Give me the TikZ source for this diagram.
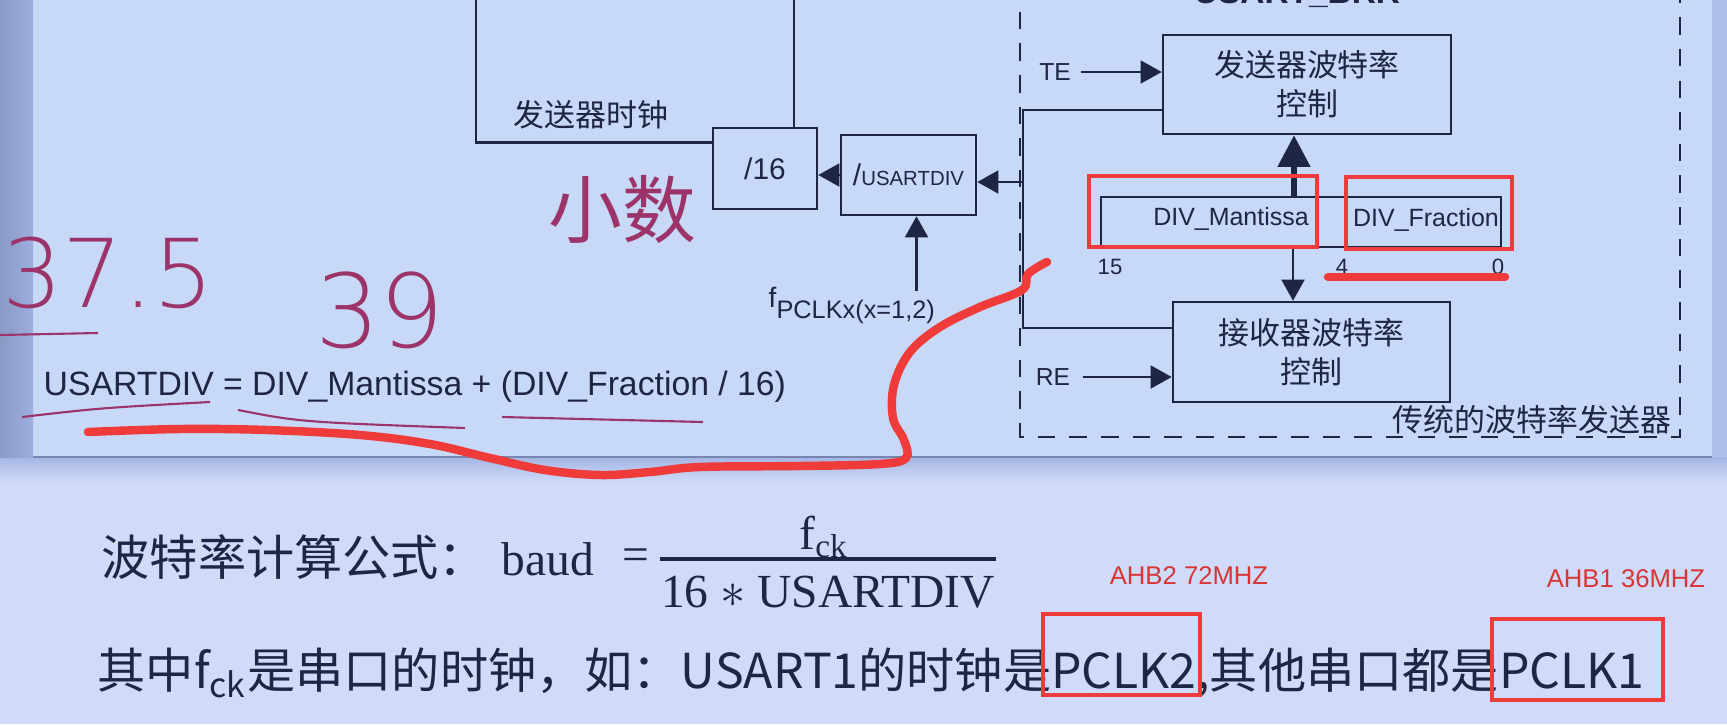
\documentclass[tikz,border=0pt]{standalone}
\usepackage{fontspec}
\setmainfont{Liberation Sans}
\newfontfamily\cjk{Noto Sans CJK SC}
\newfontfamily\serifo{Liberation Serif}
\newfontfamily\hand{DejaVu Sans ExtraLight}
\usepackage{tikz}
\usetikzlibrary{arrows.meta}
\definecolor{inchiostro}{HTML}{1E2545}
\definecolor{lavagna}{HTML}{C8D8F7}
\definecolor{sfondo}{HTML}{CFDBF9}
\definecolor{bordo}{HTML}{9DAEE0}
\definecolor{rosso}{HTML}{F03B3B}
\definecolor{penna}{HTML}{9C3469}

\begin{document}
\begin{tikzpicture}[x=0.01cm, y=-0.01cm,
        every node/.style={font=\fontsize{7.1}{8}\selectfont, text=inchiostro, inner sep=0pt},
        blocco/.style={draw=inchiostro, line width=0.7pt},
        freccia/.style={draw=inchiostro, line width=0.7pt, -{Triangle[length=6pt,width=6.5pt]}},
        riquadro/.style={draw=rosso, line width=1pt},
        scritta/.style={text=penna, font=\hand\fontsize{27}{27}\selectfont}]
        \clip (0,0) rectangle (1727,724);

        % Sfondo (foto della slide)
        \fill[sfondo] (0,0) rectangle (1727,724);
        \shade[top color=bordo!85!sfondo, bottom color=sfondo] (0,457) rectangle (1727,482);
        \fill[lavagna] (33,0) rectangle (1712,457);
        \draw[bordo!70!inchiostro, line width=0.6pt] (33,457) -- (1712,457);
        \shade[left color=bordo!80!black!60!bordo, right color=bordo] (0,0) rectangle (33,457);
        \fill[bordo!60!lavagna] (1712,0) rectangle (1727,457);

        % Riquadro tratteggiato USART_BRR
        \draw[inchiostro, line width=0.7pt, dash pattern=on 5pt off 4pt]
        (1020,-20) -- (1020,437) -- (1680,437) -- (1680,-20);
        \node[anchor=base, font=\bfseries\fontsize{9.5}{10}\selectfont] (titolo) at (1297,3) {USART\_BRR};

        % Blocchi
        \node[blocco, minimum width=1.04cm, minimum height=0.81cm,
            font=\fontsize{8.5}{9}\selectfont] (div16) at (765,168.5) {/16};
        \node[blocco, minimum width=1.35cm, minimum height=0.8cm] (usartdiv) at (908.5,175)
        {{\fontsize{8.5}{9}\selectfont/}{\fontsize{5.8}{7}\selectfont USARTDIV}};
        \node[blocco, minimum width=2.88cm, minimum height=0.99cm, align=center,
            font=\cjk\fontsize{8.8}{11.1}\selectfont] (txctl) at (1307,84.5) {发送器波特率\\控制};
        \node[blocco, minimum width=2.77cm, minimum height=1.0cm, align=center,
            font=\cjk\fontsize{8.8}{11.1}\selectfont] (rxctl) at (1311.5,352) {接收器波特率\\控制};
        \node[blocco, minimum width=4.0cm, minimum height=0.5cm] (brr) at (1301,222) {};
        \node (mant) at (1231,219) {DIV\_Mantissa};
        \node (frac) at (1426,220) {DIV\_Fraction};
        \foreach \x/\bit in {1110/15, 1342/4, 1498/0}
        \node[font=\fontsize{6.3}{7}\selectfont] (bit\bit) at (\x,267) {\bit};

        % Orologio del trasmettitore
        \node[font=\cjk\fontsize{8.8}{10}\selectfont] (txclk) at (591,115) {发送器时钟};
        \coordinate (cksx) at (476,142.7);
        \coordinate (ckdx) at (794,-5);
        \draw[inchiostro, line width=0.7pt] (476,-5) -- (cksx) -- (cksx -| div16.west);
        \draw[inchiostro, line width=0.7pt] (ckdx) -- (ckdx |- div16.north);

        % Collegamenti
        \coordinate (bus1) at (1023,110);
        \coordinate (bus2) at (1023,328);
        \draw[inchiostro, line width=0.7pt] (txctl.west |- bus1) -- (bus1) -- (bus2) -- (rxctl.west |- bus2);
        \draw[freccia] ([yshift=-0.07cm]usartdiv.east -| bus1) -- ([yshift=-0.07cm]usartdiv.east);
        \draw[freccia] (usartdiv.west) -- (usartdiv.west -| div16.east);
        \node[font=\fontsize{7}{8}\selectfont] (te) at (1055,72) {TE};
        \node[font=\fontsize{7}{8}\selectfont] (re) at (1053,377) {RE};
        \draw[freccia] ([xshift=0.1cm]te.east) -- (te.east -| txctl.west);
        \draw[freccia] ([xshift=0.12cm]re.east) -- (re.east -| rxctl.west);
        \draw[freccia, line width=1.6pt, -{Triangle[length=9pt,width=9pt]}]
        ([xshift=-0.07cm]brr.north) -- ([xshift=-0.07cm]brr.north |- txctl.south);
        \draw[freccia] ([xshift=-0.08cm]brr.south) -- ([xshift=-0.08cm]brr.south |- rxctl.north);

        \node[anchor=base west, font=\fontsize{8}{9}\selectfont] (pclk) at (768,307)
        {f\raisebox{-0.11cm}{\fontsize{7.2}{8}\selectfont PCLKx(x=1,2)}};
        \draw[freccia] ([xshift=0.08cm, yshift=-0.05cm]usartdiv.south |- pclk.north) -- ([xshift=0.08cm]usartdiv.south);

        \node[anchor=east, font=\cjk\fontsize{8.8}{10}\selectfont] (legacy) at (1672,420) {传统的波特率发送器};

        % Formula del divisore
        \node[anchor=base west, font=\fontsize{9.6}{10}\selectfont] (formula) at (43,395)
        {USARTDIV = DIV\_Mantissa + (DIV\_Fraction / 16)};

        % Formula del baud rate
        \node[anchor=west, font=\cjk\fontsize{13.7}{16}\selectfont] (calc) at (101,557) {波特率计算公式：};
        \node[anchor=base west, font=\serifo\fontsize{13.5}{15}\selectfont] (baud) at (501,575) {baud};
        \node[font=\serifo\fontsize{13.5}{15}\selectfont] (uguale) at (636,560) {=};
        \node[font=\serifo\fontsize{13.5}{15}\selectfont] (num) at (824,537) {f\textsubscript{ck}};
        \node[font=\serifo\fontsize{13.5}{15}\selectfont] (den) at (828,592) {16 $*$ USARTDIV};
        \coordinate (barra) at (0,559);
        \draw[inchiostro, line width=1.1pt] (den.west |- barra) -- (den.east |- barra);

        \node[anchor=west, font=\cjk\fontsize{13.7}{16}\selectfont] (nota) at (97,673)
        {其中f\textsubscript{ck}是串口的时钟，如：USART1的时钟是PCLK2,其他串口都是PCLK1};

        % Annotazioni in rosso
        \foreach \a/\b in {{(1089,176)}/{(1317,247)}, {(1346,177)}/{(1512,249)},
                {(1043,614)}/{(1200,695)}, {(1492,619)}/{(1663,700)}}
        \draw[riquadro] \a rectangle \b;
        \draw[rosso, line width=2.4pt, line cap=round] (1328,277) -- (1505,277);
        \node[text=rosso!90!black, font=\fontsize{7.3}{8}\selectfont] (ahb2) at (1189,576) {AHB2 72MHZ};
        \node[text=rosso!90!black, font=\fontsize{7.3}{8}\selectfont] (ahb1) at (1626,579) {AHB1 36MHZ};
        \draw[rosso, line width=2.4pt, line cap=round] plot[smooth, tension=0.6] coordinates {
                (88,432) (180,429) (267,430) (360,435) (430,444) (490,458) (545,470)
                (600,475) (650,472) (700,467) (800,466) (880,464) (906,458) (904,440)
                (893,418) (894,385) (910,352) (940,327) (980,307) (1022,290) (1028,274) (1047,262)};

        % Appunti a mano
        \node[scritta] (n375) at (108,273) {37.5};
        \node[scritta, font=\hand\fontsize{29}{29}\selectfont] (n39) at (380,310) {39};
        \node[scritta, font=\cjk\fontsize{21}{21}\selectfont] (xiaoshu) at (622,210) {小数};
        \draw[penna, line width=0.6pt] (0,335) -- (98,333);
        \draw[penna, line width=0.6pt] (22,417) .. controls (100,408) .. (210,402);
        \draw[penna, line width=0.6pt] (238,410) .. controls (300,422) .. (465,428);
        \draw[penna, line width=0.6pt] (502,417) -- (703,422);
    \end{tikzpicture}
\end{document}
